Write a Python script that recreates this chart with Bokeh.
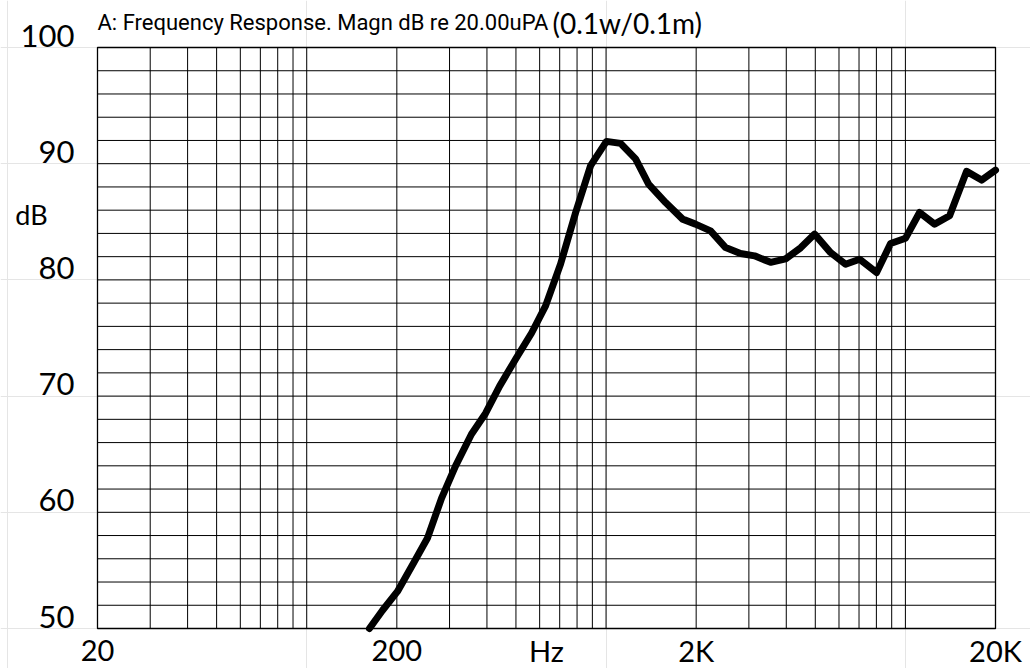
import math
from bokeh.plotting import figure
from bokeh.models import Range1d
from bokeh.core.properties import value
from bokeh.embed import file_html
from bokeh.resources import INLINE

# ---- data ----
freq_hz = [162, 179, 201, 227, 253, 282, 314, 355, 396, 441, 499, 564, 628, 705,
           791, 888, 1003, 1118, 1255, 1387, 1581, 1802, 1990, 2234, 2508, 2814,
           3134, 3546, 3980, 4466, 4975, 5624, 6312, 7032, 8013, 8924, 10014,
           11153, 12516, 14052, 16016, 17972, 20000]
spl_db = [50.0, 51.55, 53.19, 55.6, 57.76, 61.2, 63.97, 66.72, 68.53, 70.86, 73.19,
          75.43, 77.76, 81.38, 85.78, 89.83, 91.92, 91.75, 90.41, 88.25, 86.66,
          85.23, 84.80, 84.22, 82.78, 82.27, 82.07, 81.51, 81.81, 82.76, 83.94,
          82.35, 81.35, 81.78, 80.63, 83.13, 83.59, 85.80, 84.80, 85.52, 89.34,
          88.59, 89.45]

y_ticks = [50, 60, 70, 80, 90, 100]
y_tick_labels = ["50", "60", "70", "80", "90", "100"]
x_ticks = [20, 200, 2000, 20000]
x_tick_labels = ["20", "200", "2K", "20K"]
x_grid = [m * d for d in (10, 100, 1000) for m in range(2, 11)] + [20000]
y_grid = list(range(50, 101, 2))

title_main = "A: Frequency Response. Magn dB re 20.00uPA"
title_paren = "(0.1w/0.1m)"
x_title = "Hz"
y_title = "dB"

# ---- layout: the grid box sits at these canvas pixels ----
W, H = 1030, 668
L, R, T, B = 97, 995, 47, 628
xmin, xmax, ymin, ymax = 20, 20000, 50, 100
dec_px = (R - L) / math.log10(xmax / xmin)
db_px = (B - T) / (ymax - ymin)
x_start = xmin * 10 ** (-L / dec_px)
x_end = xmin * 10 ** ((W - L) / dec_px)
y_end = ymax + T / db_px
y_start = ymin - (H - B) / db_px

p = figure(width=W, height=H, output_backend="svg", toolbar_location=None,
           x_axis_type="log", x_axis_location=None, y_axis_location=None,
           x_range=Range1d(x_start, x_end), y_range=Range1d(y_start, y_end))
p.min_border = 0
p.min_border_left = 0
p.min_border_right = 0
p.min_border_top = 0
p.min_border_bottom = 0
p.outline_line_color = None
p.background_fill_color = "white"
p.border_fill_color = "white"

# grid
p.segment(x0=x_grid, y0=[ymin] * len(x_grid), x1=x_grid, y1=[ymax] * len(x_grid),
          line_color="black", line_width=1)
p.segment(x0=[xmin] * len(y_grid), y0=y_grid, x1=[xmax] * len(y_grid), y1=y_grid,
          line_color="black", line_width=1)
p.quad(left=[xmin], right=[xmax], bottom=[ymin], top=[ymax], fill_color=None,
       line_color="black", line_width=1.3)

# response curve
p.line(freq_hz, spl_db, line_color="black", line_width=7,
       line_join="round", line_cap="round")

tick_font = value("Lato")

p.text(x=[xmin] * len(y_ticks), y=y_ticks, text=y_tick_labels, x_offset=-23,
       y_offset=-12, text_align="right", text_baseline="middle", text_font=tick_font,
       text_font_size="31px", text_color="black")
p.text(x=x_ticks, y=[ymin] * len(x_ticks), text=x_tick_labels, y_offset=22,
       text_align="center", text_baseline="middle", text_font=tick_font,
       text_font_size="29px", text_color="black")
p.text(x=[math.sqrt(200 * 2000)], y=[ymin], text=[x_title], y_offset=22,
       text_align="center", text_baseline="middle", text_font=tick_font,
       text_font_size="29px", text_color="black")
p.text(x=[xmin], y=[86], text=[y_title], x_offset=-66, y_offset=4,
       text_align="center", text_baseline="middle", text_font=tick_font,
       text_font_size="27px", text_color="black")

p.text(x=[xmin], y=[ymax], text=[title_main], y_offset=-25,
       text_align="left", text_baseline="middle",
       text_font=value("Roboto"), text_font_size="22px", text_color="black")
p.text(x=[xmin], y=[ymax], text=[title_paren], x_offset=455, y_offset=-25,
       text_align="left", text_baseline="middle",
       text_font=tick_font, text_font_size="28px", text_color="black")

open("out.html", "w").write(file_html(p, INLINE))
